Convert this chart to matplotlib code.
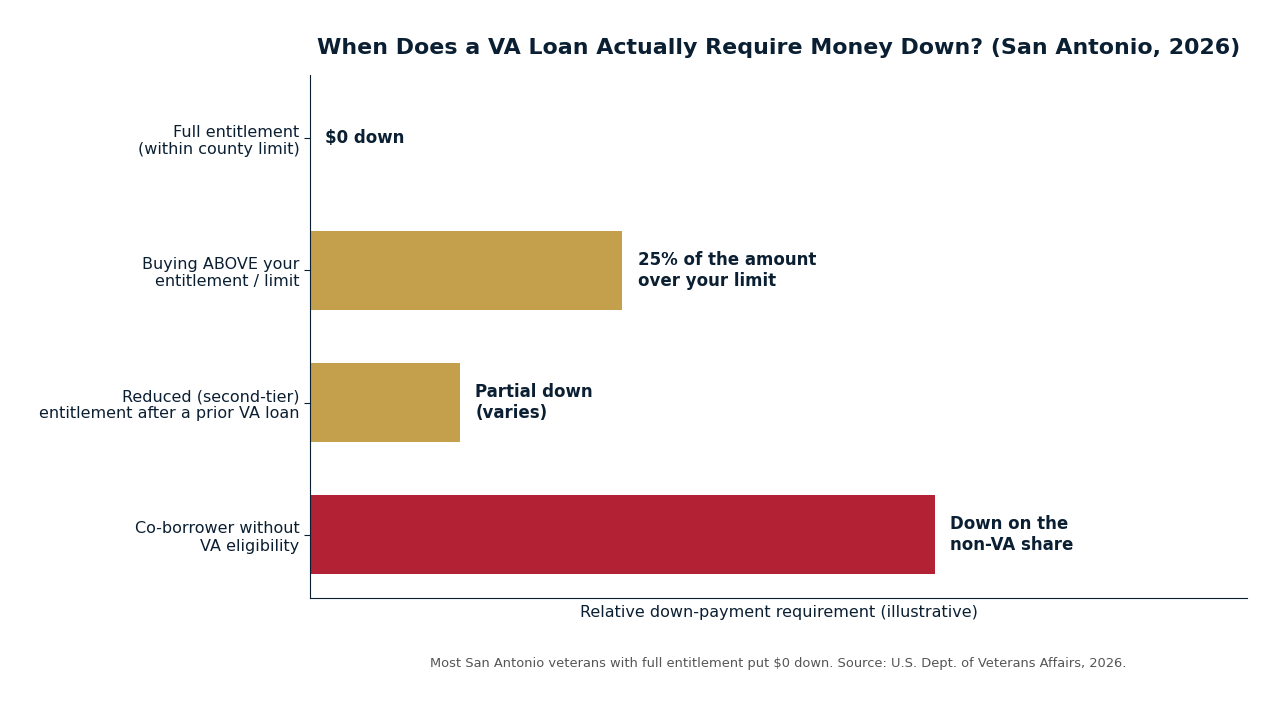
import matplotlib.pyplot as plt

# Données
categories = ['Full entitlement\n(within county limit)',
              'Buying ABOVE your\nentitlement / limit',
              'Reduced (second-tier)\nentitlement after a prior VA loan',
              'Co-borrower without\nVA eligibility']
values = [0, 25, 12, 50]
bar_labels = ['$0 down', '25% of the amount\nover your limit',
              'Partial down\n(varies)', 'Down on the\nnon-VA share']
colors = ['#C4A04C', '#C4A04C', '#C4A04C', '#B22234']

navy = '#0B1F33'

fig = plt.figure(figsize=(12.85, 7.08), dpi=100)
ax = fig.add_axes([310 / 1285, 1 - 598 / 708, 937 / 1285, 523 / 708])

y = range(len(categories))
ax.barh(y, values, height=0.6, color=colors)
ax.set_yticks(list(y))
ax.set_yticklabels(categories, fontsize=11.5, color=navy)
ax.invert_yaxis()
ax.set_xlim(0, 75)
ax.set_xticks([])

for i, (v, lab) in enumerate(zip(values, bar_labels)):
    ax.annotate(lab, (v, i), xytext=(11, 0), textcoords='offset points',
                va='center', ha='left', fontsize=12, fontweight='bold', color=navy)

ax.spines['top'].set_visible(False)
ax.spines['right'].set_visible(False)
ax.spines['left'].set_color(navy)
ax.spines['bottom'].set_color(navy)
ax.tick_params(axis='y', colors=navy, length=4)
for t in ax.get_yticklabels():
    t.set_color(navy)

ax.set_xlabel('Relative down-payment requirement (illustrative)', fontsize=11.5, color=navy, labelpad=5)
ax.set_title('When Does a VA Loan Actually Require Money Down? (San Antonio, 2026)',
             fontsize=15.9, fontweight='bold', color=navy, pad=15)

fig.text(0.5 * (310 + 1247) / 1285, 1 - 663 / 708,
         'Most San Antonio veterans with full entitlement put $0 down. Source: U.S. Dept. of Veterans Affairs, 2026.',
         ha='center', va='center', fontsize=9.4, color='#555555')

fig.savefig('out.png', dpi=100)
